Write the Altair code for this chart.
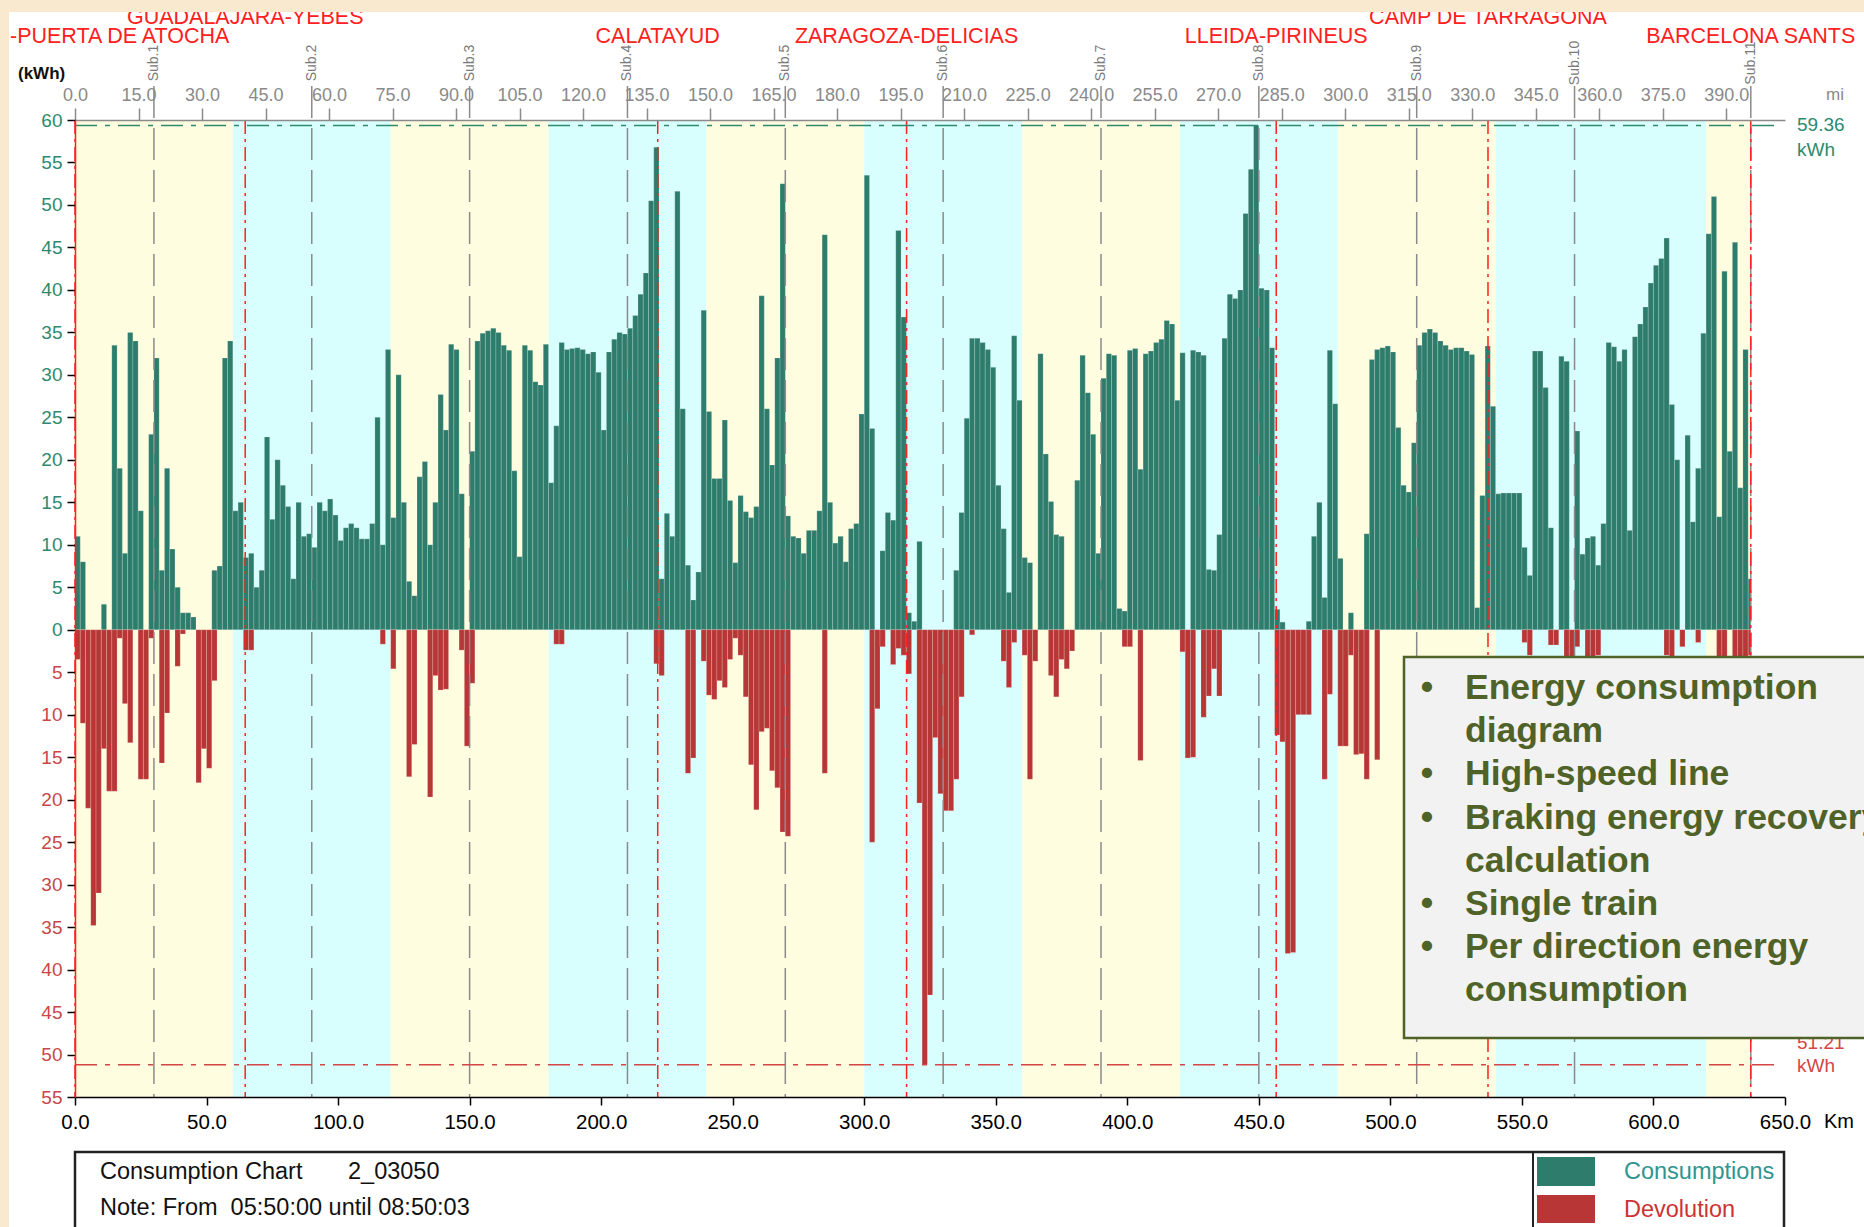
import altair as alt
import pandas as pd

# ---------------- data ----------------
BIN_KM = 2.0
LINE_END_KM = 637.0

# energy per 2-km section, kWh (consumption > 0)
consumption = [
    11, 8, 0, 0, 0, 3, 0, 33.5, 19, 9,
    35, 34, 14, 0, 23, 32, 7, 19, 9.5, 5,
    2, 2, 1.5, 0, 0, 0, 7, 7.5, 32, 34,
    14, 15, 8.5, 9, 5, 7, 22.7, 13, 20, 17,
    14.5, 6, 15, 11, 11.3, 9.7, 15, 14, 15.4, 13.5,
    10.5, 12, 12.5, 12, 10.7, 10.7, 12.5, 25, 10, 33,
    13.2, 30, 15, 5.7, 4, 18, 19.8, 10, 15, 27.7,
    23.5, 33.6, 33, 16, 0, 21, 34, 34.9, 35.2, 35.5,
    35, 33.5, 32.9, 18.7, 8.6, 33.5, 32.9, 29.2, 28.8, 33.6,
    17.3, 24, 33.8, 33, 33.1, 33.2, 33, 32.5, 32.7, 30.3,
    23.5, 32.7, 34.2, 35, 34.8, 35.5, 37, 39.5, 42, 50.5,
    56.8, 6, 13.7, 11, 51.6, 26, 7.6, 3.5, 6.8, 37.6,
    25.7, 17.8, 17.8, 24.7, 15.2, 7.9, 15.8, 13.9, 13.2, 14.5,
    39.3, 26, 19.4, 32, 52.5, 13.4, 11, 10.8, 9, 11.7,
    11.7, 14, 46.5, 15, 10.2, 11, 8, 11.9, 12.5, 25.4,
    53.5, 23.7, 0, 9.3, 13.8, 12.9, 47, 36.8, 2, 1,
    10.4, 0, 0, 0, 0, 0, 0, 7, 13.8, 24.9,
    34.3, 34.3, 33.8, 33, 30.9, 17, 11.9, 4.4, 34.6, 27,
    8.5, 7.9, 0, 32.5, 20.7, 15.1, 11.2, 11, 0, 0,
    17.6, 32.3, 27.9, 23, 9, 29.6, 32.5, 32.3, 2.5, 2.2,
    32.9, 33.1, 18.9, 32.5, 32.8, 33.8, 34.2, 36.4, 36, 27,
    32.6, 0, 32.9, 32.7, 32.3, 7.1, 7, 11.2, 34.3, 39.5,
    39, 40, 49, 54.2, 59.36, 40.2, 40, 33.2, 2.4, 0.9,
    0, 0, 0, 0, 1, 11, 15, 3.8, 32.9, 26.6,
    8.4, 0, 2, 0, 0, 11.3, 31.8, 33, 33.2, 33.4,
    32.7, 23.8, 17, 16.2, 22, 33.5, 35, 35.4, 35, 34,
    33.5, 33, 33.2, 33.2, 32.8, 32.4, 2.6, 15.8, 33.4, 26.3,
    16, 16.1, 16.1, 16.1, 16.1, 9.7, 6.4, 32.8, 32.8, 28.5,
    12, 0, 32.2, 31.6, 0, 23.4, 8.9, 10.8, 11, 7.6,
    12.5, 33.8, 33.3, 31.6, 33, 11.7, 34.5, 36, 38, 40.8,
    42.9, 43.7, 46.1, 26.5, 20, 0, 22.9, 12.7, 19, 34.9,
    46.6, 51, 13.3, 42.2, 21, 45.6, 16.7, 33, 6,
]

# regenerated (returned) energy per 2-km section, kWh (< 0)
devolution = [
    -3.5, -11, -21, -34.8, -31, -14, -19, -19, -1, -8.7,
    -13.3, 0, -17.6, -17.6, -1, 0, -15.7, -9.8, 0, -4.3,
    -0.5, 0, 0, -18, -14, -16.3, -6, 0, 0, 0,
    0, 0, -2.4, -2.4, 0, 0, 0, 0, 0, 0,
    0, 0, 0, 0, 0, 0, 0, 0, 0, 0,
    0, 0, 0, 0, 0, 0, 0, 0, -1.7, 0,
    -4.6, 0, 0, -17.3, -13.5, 0, 0, -19.7, -5.4, -7.1,
    -7, 0, 0, -2.4, -13.7, -6.3, 0, 0, 0, 0,
    0, 0, 0, 0, 0, 0, 0, 0, 0, 0,
    0, -1.7, -1.7, 0, 0, 0, 0, 0, 0, 0,
    0, 0, 0, 0, 0, 0, 0, 0, 0, 0,
    -4, -5.4, 0, 0, 0, 0, -16.9, -15.1, 0, -3.7,
    -7.7, -8.2, -6, -6.8, -3.5, -1, -3, -7.9, -15.9, -21.2,
    -12, -11.6, -16.6, -18.6, -23.8, -24.3, 0, 0, 0, 0,
    0, 0, -16.9, 0, 0, 0, 0, 0, 0, 0,
    0, -25, -9.3, -2, 0, -4.1, -2.2, -3, -5.2, 0,
    -20.4, -51.21, -43, -12.7, -19.3, -21.3, -21.3, -17.6, -7.9, 0,
    -0.6, 0, 0, 0, 0, 0, -3.7, -6.8, -1.5, 0,
    -3, -17.6, -3.7, 0, 0, -5.4, -7.9, -3.5, -4.6, -2.5,
    0, 0, 0, 0, 0, 0, 0, 0, 0, -2,
    -2, 0, -15.4, 0, 0, 0, 0, 0, 0, 0,
    -2.6, -15.1, -15, 0, -10.3, -7.8, -4.6, -7.8, 0, 0,
    0, 0, 0, 0, 0, 0, 0, 0, -12.4, -13.2,
    -38.1, -38, -10, -10, -10, 0, 0, -17.6, -7.6, 0,
    -13.7, -13.7, -3, -14.7, -14.6, -17.6, 0, -15.3, 0, 0,
    0, 0, 0, 0, 0, 0, 0, 0, 0, 0,
    0, 0, 0, 0, 0, 0, 0, 0, 0, 0,
    0, 0, 0, 0, 0, -1.5, -3, 0, 0, 0,
    -1.8, -1.8, 0, -4, -4, -2, 0, -4, -4, -3,
    0, 0, 0, 0, 0, 0, 0, 0, 0, 0,
    0, 0, -3, -4, 0, -2, 0, 0, -1.5, 0,
    0, 0, -4, -4, 0, -4, -4, -4, -3,
]

max_kwh = 59.36
min_kwh = -51.21

band_edges = [0, 60, 120, 180, 240, 300, 360, 420, 480, 540, 620, 637]
band_kind = ["yellow", "cyan", "yellow", "cyan", "yellow", "cyan",
             "yellow", "cyan", "yellow", "cyan", "yellow"]

substation_km = [30, 90, 150, 210, 270, 330, 390, 450, 510, 570, 637]
substation_names = ["Sub.1", "Sub.2", "Sub.3", "Sub.4", "Sub.5", "Sub.6",
                    "Sub.7", "Sub.8", "Sub.9", "Sub.10", "Sub.11"]

station_km = [0, 64.7, 221.5, 316.1, 456.6, 537.1, 637.0]
station_names = ["-PUERTA DE ATOCHA", "GUADALAJARA-YEBES", "CALATAYUD",
                 "ZARAGOZA-DELICIAS", "LLEIDA-PIRINEUS", "CAMP DE TARRAGONA",
                 "BARCELONA SANTS"]
station_row = [0, 1, 2, 2, 2, 1, 2]   # row 0: first station, shown from the picture's left edge

km_ticks = list(range(0, 651, 50))
kwh_ticks = list(range(-55, 61, 5))
mi_ticks = list(range(0, 391, 15))
KM_PER_MI = 1.609344

bullet_lines = ["Energy consumption", "diagram", "High-speed line",
                "Braking energy recovery", "calculation", "Single train",
                "Per direction energy", "consumption"]
bullet_flags = [True, False, True, True, False, True, True, False]

legend_labels = ["Consumptions", "Devolution"]
chart_title = "Consumption Chart"
chart_code = "2_03050"
chart_note = "Note: From\u00a0\u00a005:50:00 until 08:50:03"
unit_title = "(kWh)"

# ---------------- style ----------------
FONT = "Liberation Sans"
BEIGE = "#f8e9cf"
GREEN = "#2e7d6c"
RED = "#b83636"
LINE_GREEN = "#2e8a6e"
LINE_RED = "#d64545"
STATION_RED = "#ff2020"
GRAY = "#8a8a8a"
YEL = "#fffddf"
CYAN = "#d8fefe"
OLIVE = "#4f6228"
band_colors = {"yellow": YEL, "cyan": CYAN}
kind_colors = {"Consumptions": GREEN, "Devolution": RED}

LEFT, TOP = 75, 120
PW, PH = 1710, 977

ONE = pd.DataFrame({"_": [0]})

xs = alt.Scale(domain=[0, 650], nice=False, zero=False)
ys = alt.Scale(domain=[-55, 60], nice=False, zero=False)
x_axis = alt.Axis(orient="bottom", values=km_ticks, format=".1f", tickSize=8,
                  tickWidth=1.5, tickColor="#000", domainColor="#000",
                  domainWidth=1.5, labelColor="#000", labelFont=FONT,
                  labelFontSize=20.5, labelPadding=7, labelFlush=False,
                  grid=False, title=None, zindex=1)
y_axis = alt.Axis(orient="left", values=kwh_ticks,
                  labelExpr="format(abs(datum.value), 'd')", tickSize=8,
                  tickWidth=1.5, tickColor="#000", domainColor=STATION_RED,
                  domainWidth=1.5,
                  labelColor={"condition": {"test": "datum.value < 0", "value": "#c84848"},
                              "value": LINE_GREEN},
                  labelFont=FONT, labelFontSize=19, labelPadding=5,
                  labelFlush=False, grid=False, title=None, zindex=1)


def X(field):
    return alt.X(field, type="quantitative", scale=xs, axis=x_axis)


def Y(field):
    return alt.Y(field, type="quantitative", scale=ys, axis=y_axis)


def box(x0, x1, y0, y1, **mark):
    return alt.Chart(ONE).mark_rect(**mark).encode(
        x=alt.value(x0 - LEFT), x2=alt.value(x1 - LEFT),
        y=alt.value(y0 - TOP), y2=alt.value(y1 - TOP))


def label(x, y, text, **mark):
    kw = dict(font=FONT)
    kw.update(mark)
    return alt.Chart(ONE).mark_text(text=text, **kw).encode(
        x=alt.value(x - LEFT), y=alt.value(y - TOP))


# ---------------- layers ----------------
white_bg = box(9, 1870, 12, 1235, color="white")

bands_df = pd.DataFrame({"a": band_edges[:-1], "b": band_edges[1:], "kind": band_kind})
bands_df["col"] = bands_df["kind"].map(band_colors)
bands = alt.Chart(bands_df).mark_rect().encode(
    x=X("a"), x2="b", y=alt.value(0), y2=alt.value(PH),
    color=alt.Color("col:N", scale=None))

rows = []
for k, (c, d) in enumerate(zip(consumption, devolution)):
    x0 = k * BIN_KM
    x1 = min(x0 + BIN_KM, LINE_END_KM)
    if c > 0:
        rows.append(dict(x0=x0, x1=x1, v=c, base=0, kind="Consumptions"))
    if d < 0:
        rows.append(dict(x0=x0, x1=x1, v=d, base=0, kind="Devolution"))
bars_df = pd.DataFrame(rows)
bars_df["col"] = bars_df["kind"].map(kind_colors)
bars = alt.Chart(bars_df).mark_rect(stroke="white", strokeWidth=0.6, strokeOpacity=0.3).encode(
    x=X("x0"), x2="x1", y=Y("v"), y2="base",
    color=alt.Color("col:N", scale=None))

subs_df = pd.DataFrame({"km": substation_km, "name": substation_names})
sub_rules = alt.Chart(subs_df).mark_rule(color=GRAY, strokeWidth=1.5, strokeDash=[32, 10]).encode(
    x=X("km"), y=alt.value(86 - TOP), y2=alt.value(PH))
sub_labels = alt.Chart(subs_df).mark_text(font=FONT, fontSize=14, color="#7a7a7a", angle=270,
                                          align="center", baseline="middle").encode(
    x=X("km"), y=alt.value(63 - TOP), text="name:N")

st_df = pd.DataFrame({"km": station_km, "name": station_names, "row": station_row})
station_rules = alt.Chart(st_df).mark_rule(color=STATION_RED, strokeWidth=1.5,
                                           strokeDash=[14, 5, 3, 5]).encode(
    x=X("km"), y=alt.value(0), y2=alt.value(PH))
st_row0 = alt.Chart(st_df).transform_filter("datum.row == 0").mark_text(
    font=FONT, fontSize=21.5, color=STATION_RED, align="left", baseline="middle").encode(
    x=alt.value(10 - LEFT), y=alt.value(37 - TOP), text="name:N")
st_row1 = alt.Chart(st_df).transform_filter("datum.row == 1").mark_text(
    font=FONT, fontSize=21.5, color=STATION_RED, align="center", baseline="middle").encode(
    x=X("km"), y=alt.value(18 - TOP), text="name:N")
st_row2 = alt.Chart(st_df).transform_filter("datum.row == 2").mark_text(
    font=FONT, fontSize=21.5, color=STATION_RED, align="center", baseline="middle").encode(
    x=X("km"), y=alt.value(37 - TOP), text="name:N")

lim_df = pd.DataFrame({"x0": [0, 0], "x1": [648, 648], "y": [max_kwh, min_kwh],
                       "kind": ["max", "min"]})
max_line = alt.Chart(lim_df).transform_filter("datum.kind == 'max'").mark_rule(
    color=LINE_GREEN, strokeWidth=1.5, strokeDash=[22, 8, 5, 8]).encode(
    x=X("x0"), x2="x1", y=Y("y"))
min_line = alt.Chart(lim_df).transform_filter("datum.kind == 'min'").mark_rule(
    color=LINE_RED, strokeWidth=1.5, strokeDash=[22, 8, 5, 8]).encode(
    x=X("x0"), x2="x1", y=Y("y"))

max_lbl = label(1797, 116, [f"{max_kwh:.2f}", "kWh"], fontSize=19, color=LINE_GREEN,
                align="left", baseline="top", lineHeight=25)
min_lbl = label(1797, 1034, [f"{abs(min_kwh):.2f}", "kWh"], fontSize=19, color=LINE_RED,
                align="left", baseline="top", lineHeight=23)

kwh_title = label(18, 74, unit_title, fontSize=17, fontWeight="bold", color="#111",
                  align="left", baseline="middle")
km_lbl = label(1839, 1122, "Km", fontSize=20, color="#000", align="center", baseline="middle")
mi_lbl = label(1835, 95, "mi", fontSize=17, color=GRAY, align="center", baseline="middle")

# bottom information box
info_box = box(75, 1784, 1152, 1245, fill="white", stroke="#222", strokeWidth=2.5)
info_sep = box(1532, 1534, 1152, 1245, color="#222")
sw_green = box(1537, 1595, 1157, 1186, color=GREEN)
sw_red = box(1537, 1595, 1195, 1223, color=RED)
lg1 = label(1624, 1172, legend_labels[0], fontSize=23.5, color="#2f9590", align="left", baseline="middle")
lg2 = label(1624, 1210, legend_labels[1], fontSize=23.5, color="#cc3333", align="left", baseline="middle")
info1 = label(100, 1172, chart_title, fontSize=23.5, color="#111", align="left", baseline="middle")
info2 = label(348, 1172, chart_code, fontSize=23.5, color="#111", align="left", baseline="middle")
info3 = label(100, 1208, chart_note, fontSize=23.5, color="#111", align="left", baseline="middle")

# slide text box
TB_TOP, TB_LH = 671, 43.2
tbox = box(1404, 1880, 657, 1038, fill="#f2f2f2", stroke=OLIVE, strokeWidth=2.5)
tlines = label(1465, TB_TOP, bullet_lines, fontSize=35.5, fontWeight="bold", color=OLIVE,
               align="left", baseline="top", lineHeight=TB_LH)
tbullets = [label(1427, TB_TOP + i * TB_LH, "\u2022", fontSize=35.5, fontWeight="bold",
                  color=OLIVE, align="center", baseline="top")
            for i, f in enumerate(bullet_flags) if f]

# slide background strips (crop the chart picture)
strip_left = box(0, 9, 0, 1235, color=BEIGE)
strip_top = box(0, 1870, 0, 12, color=BEIGE)

inner = alt.layer(
    white_bg, bands, bars, sub_rules, station_rules, max_line, min_line,
    sub_labels, st_row0, st_row1, st_row2, max_lbl, min_lbl, kwh_title, km_lbl, mi_lbl,
    info_box, info_sep, sw_green, sw_red, lg1, lg2, info1, info2, info3,
    tbox, *tbullets, tlines, strip_left, strip_top,
)

top_axis = alt.Chart(pd.DataFrame({"mi": mi_ticks})).mark_point(opacity=0).encode(
    x=alt.X("mi:Q", scale=alt.Scale(domain=[0, 650 / KM_PER_MI], nice=False, zero=False),
            axis=alt.Axis(orient="top", values=mi_ticks, format=".1f", tickSize=12,
                          tickColor=GRAY, tickWidth=1.5, domainColor=GRAY, domainWidth=1.5,
                          labelColor=GRAY, labelFont=FONT, labelFontSize=18, labelPadding=4,
                          labelFlush=False, grid=False, title=None, zindex=1)),
    y=alt.value(0))

chart = alt.layer(inner, top_axis).resolve_scale(x="independent").properties(
    width=PW, height=PH,
    padding={"left": LEFT, "top": TOP, "right": 1864 - LEFT - PW, "bottom": 1227 - TOP - PH},
    autosize=alt.AutoSizeParams(type="none"),
    background=BEIGE,
).configure_view(strokeWidth=0)

chart.save("out.html", embed_options={"renderer": "svg", "actions": False})
